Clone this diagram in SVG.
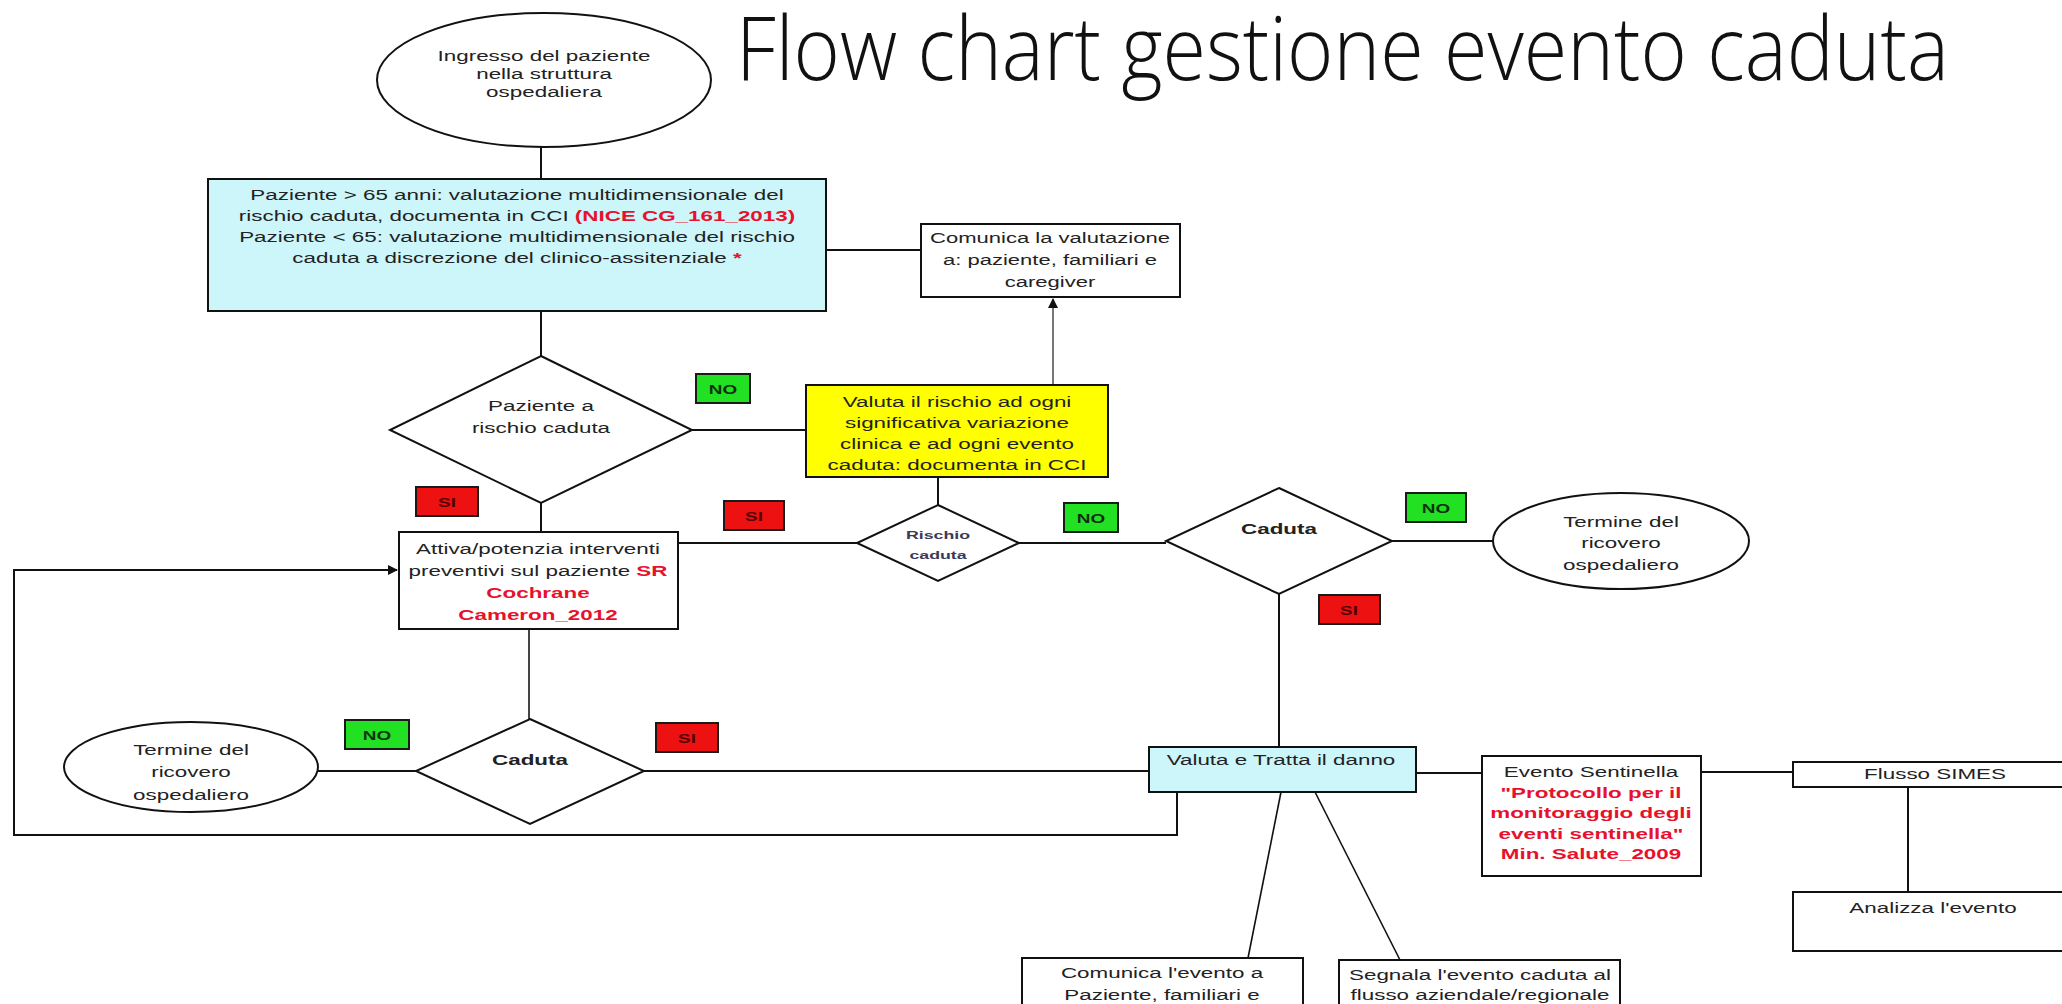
<svg xmlns="http://www.w3.org/2000/svg" width="2062" height="1004" viewBox="0 0 2062 1004">
<style>
  .t{font-family:"Liberation Sans",Arial,sans-serif;font-size:14.5px;fill:#222;text-anchor:middle}
  .b{font-weight:bold}
  .r{fill:#e8112d}
  .sm{font-size:11.5px;font-weight:bold;fill:#3a3a55}
  .shape{fill:#fff;stroke:#111;stroke-width:2}
  .blue{fill:#cdf6fa}
  .yel{fill:#ffff00}
  .no{fill:#22e022;stroke:#1a1a1a;stroke-width:2}
  .si{fill:#ee1111;stroke:#1a1a1a;stroke-width:2}
  .lt{font-family:"Liberation Sans",Arial,sans-serif;font-size:13.5px;font-weight:bold;text-anchor:middle}
  .ltno{fill:#103010}
  .ltsi{fill:#500000}
  .edge{fill:none;stroke:#111;stroke-width:2}
  .title{font-family:"Open Sans","Liberation Sans",sans-serif;font-weight:300;font-size:88px;fill:#111}
</style>
<defs>
  <marker id="arr" viewBox="0 0 10 10" refX="9" refY="5" markerWidth="5" markerHeight="5" orient="auto-start-reverse">
    <path d="M0,0 L10,5 L0,10 z" fill="#111"/>
  </marker>
</defs>
<rect width="2062" height="1004" fill="#fff"/>

<text class="title" transform="translate(736 80) scale(0.8 1)" x="0" y="0" textLength="1516" lengthAdjust="spacingAndGlyphs">Flow chart gestione evento caduta</text>

<g id="connectors">
  <path class="edge" d="M541,147 V179"/>
  <path class="edge" d="M826,250 H921"/>
  <path class="edge" d="M541,311 V356"/>
  <path class="edge" d="M692,430 H806"/>
  <path class="edge" d="M1053,385 V299" marker-end="url(#arr)" style="stroke:#777"/>
  <path class="edge" d="M541,503 V532"/>
  <path class="edge" d="M938,477 V505"/>
  <path class="edge" d="M678,543 H857"/>
  <path class="edge" d="M1019,543 H1166"/>
  <path class="edge" d="M1392,541 H1493"/>
  <path class="edge" d="M1279,594 V747"/>
  <path class="edge" d="M529,629 V719" style="stroke:#444"/>
  <path class="edge" d="M318,771 H416"/>
  <path class="edge" d="M644,771 H1149"/>
  <path class="edge" d="M1177,792 V835 H14 V570 H397" marker-end="url(#arr)"/>
  <path class="edge" d="M1416,773 H1482"/>
  <path class="edge" d="M1701,772 H1793"/>
  <path class="edge" d="M1908,787 V892"/>
  <path class="edge" d="M1281,792 L1248,958" style="stroke-width:1.6"/>
  <path class="edge" d="M1315,792 L1400,960" style="stroke-width:1.6"/>
</g>

<g id="start">
  <ellipse class="shape" cx="544" cy="80" rx="167" ry="67"/>
  <text class="t" transform="translate(544 0) scale(1.545 1)"><tspan x="0" y="61">Ingresso del paziente</tspan><tspan x="0" y="79">nella struttura</tspan><tspan x="0" y="97">ospedaliera</tspan></text>
</g>

<g id="valutazione">
  <rect class="shape blue" x="208" y="179" width="618" height="132"/>
  <text class="t" transform="translate(517 0) scale(1.545 1)"><tspan x="0" y="200">Paziente &gt; 65 anni: valutazione multidimensionale del</tspan><tspan x="0" y="221">rischio caduta, documenta in CCI <tspan class="r b">(NICE CG_161_2013)</tspan></tspan><tspan x="0" y="242">Paziente &lt; 65: valutazione multidimensionale del rischio</tspan><tspan x="0" y="263">caduta a discrezione del clinico-assitenziale <tspan class="r b">*</tspan></tspan></text>
</g>

<g id="comunica-valutazione">
  <rect class="shape" x="921" y="224" width="259" height="73"/>
  <text class="t" transform="translate(1050 0) scale(1.52 1)"><tspan x="0" y="243">Comunica la valutazione</tspan><tspan x="0" y="265">a: paziente, familiari e</tspan><tspan x="0" y="287">caregiver</tspan></text>
</g>

<g id="dec-rischio">
  <polygon class="shape" points="541,356 692,430 541,503 390,430"/>
  <text class="t" transform="translate(541 0) scale(1.545 1)"><tspan x="0" y="411">Paziente a</tspan><tspan x="0" y="433">rischio caduta</tspan></text>
</g>

<g id="rivaluta">
  <rect class="shape yel" x="806" y="385" width="302" height="92"/>
  <text class="t" transform="translate(957 0) scale(1.545 1)"><tspan x="0" y="407">Valuta il rischio ad ogni</tspan><tspan x="0" y="428">significativa variazione</tspan><tspan x="0" y="449">clinica e ad ogni evento</tspan><tspan x="0" y="470">caduta: documenta in CCI</tspan></text>
</g>

<g id="attiva">
  <rect class="shape" x="399" y="532" width="279" height="97"/>
  <text class="t" transform="translate(538 0) scale(1.545 1)"><tspan x="0" y="554">Attiva/potenzia interventi</tspan><tspan x="0" y="576">preventivi sul paziente <tspan class="r b">SR</tspan></tspan><tspan x="0" y="598" class="r b">Cochrane</tspan><tspan x="0" y="620" class="r b">Cameron_2012</tspan></text>
</g>

<g id="dec-rischio-caduta">
  <polygon class="shape" points="938,505 1019,543 938,581 857,543"/>
  <text class="t sm" transform="translate(938 0) scale(1.545 1)"><tspan x="0" y="539">Rischio</tspan><tspan x="0" y="559">caduta</tspan></text>
</g>

<g id="dec-caduta">
  <polygon class="shape" points="1279,488 1392,541 1279,594 1166,541"/>
  <text class="t b" transform="translate(1279 0) scale(1.545 1)" y="534">Caduta</text>
</g>

<g id="termine1">
  <ellipse class="shape" cx="1621" cy="541" rx="128" ry="48"/>
  <text class="t" transform="translate(1621 0) scale(1.545 1)"><tspan x="0" y="527">Termine del</tspan><tspan x="0" y="548">ricovero</tspan><tspan x="0" y="570">ospedaliero</tspan></text>
</g>

<g id="dec-caduta2">
  <polygon class="shape" points="530,719 644,771 530,824 416,771"/>
  <text class="t b" transform="translate(530 0) scale(1.545 1)" y="765">Caduta</text>
</g>

<g id="termine2">
  <ellipse class="shape" cx="191" cy="767" rx="127" ry="45"/>
  <text class="t" transform="translate(191 0) scale(1.545 1)"><tspan x="0" y="755">Termine del</tspan><tspan x="0" y="777">ricovero</tspan><tspan x="0" y="800">ospedaliero</tspan></text>
</g>

<g id="valuta-danno">
  <rect class="shape blue" x="1149" y="747" width="267" height="45"/>
  <text class="t" transform="translate(1281 0) scale(1.545 1)" y="765">Valuta e Tratta il danno</text>
</g>

<g id="evento-sentinella">
  <rect class="shape" x="1482" y="756" width="219" height="120"/>
  <text class="t" transform="translate(1591 0) scale(1.545 1)"><tspan x="0" y="777">Evento Sentinella</tspan><tspan class="r b" x="0" y="798">"Protocollo per il</tspan><tspan class="r b" x="0" y="818">monitoraggio degli</tspan><tspan class="r b" x="0" y="839">eventi sentinella"</tspan><tspan class="r b" x="0" y="859">Min. Salute_2009</tspan></text>
</g>

<g id="flusso-simes">
  <rect class="shape" x="1793" y="762" width="280" height="25"/>
  <text class="t" transform="translate(1935 0) scale(1.545 1)" y="779">Flusso SIMES</text>
</g>

<g id="analizza">
  <rect class="shape" x="1793" y="892" width="280" height="59"/>
  <text class="t" transform="translate(1933 0) scale(1.545 1)" y="913">Analizza l'evento</text>
</g>

<g id="comunica-evento">
  <rect class="shape" x="1022" y="958" width="281" height="60"/>
  <text class="t" transform="translate(1162 0) scale(1.545 1)"><tspan x="0" y="978">Comunica l'evento a</tspan><tspan x="0" y="1000">Paziente, familiari e</tspan></text>
</g>

<g id="segnala">
  <rect class="shape" x="1339" y="960" width="281" height="60"/>
  <text class="t" transform="translate(1480 0) scale(1.545 1)"><tspan x="0" y="980">Segnala l'evento caduta al</tspan><tspan x="0" y="1000">flusso aziendale/regionale</tspan></text>
</g>

<g id="labels">
  <rect class="no" x="696" y="374" width="54" height="29"/>
  <text class="lt ltno" transform="translate(723 0) scale(1.4 1)" y="394">NO</text>
  <rect class="si" x="416" y="487" width="62" height="29"/>
  <text class="lt ltsi" transform="translate(447 0) scale(1.4 1)" y="507">SI</text>
  <rect class="si" x="724" y="501" width="60" height="29"/>
  <text class="lt ltsi" transform="translate(754 0) scale(1.4 1)" y="521">SI</text>
  <rect class="no" x="1064" y="503" width="54" height="29"/>
  <text class="lt ltno" transform="translate(1091 0) scale(1.4 1)" y="523">NO</text>
  <rect class="no" x="1406" y="493" width="60" height="29"/>
  <text class="lt ltno" transform="translate(1436 0) scale(1.4 1)" y="513">NO</text>
  <rect class="si" x="1319" y="595" width="61" height="29"/>
  <text class="lt ltsi" transform="translate(1349 0) scale(1.4 1)" y="615">SI</text>
  <rect class="no" x="345" y="720" width="64" height="29"/>
  <text class="lt ltno" transform="translate(377 0) scale(1.4 1)" y="740">NO</text>
  <rect class="si" x="656" y="723" width="62" height="29"/>
  <text class="lt ltsi" transform="translate(687 0) scale(1.4 1)" y="743">SI</text>
</g>
</svg>
